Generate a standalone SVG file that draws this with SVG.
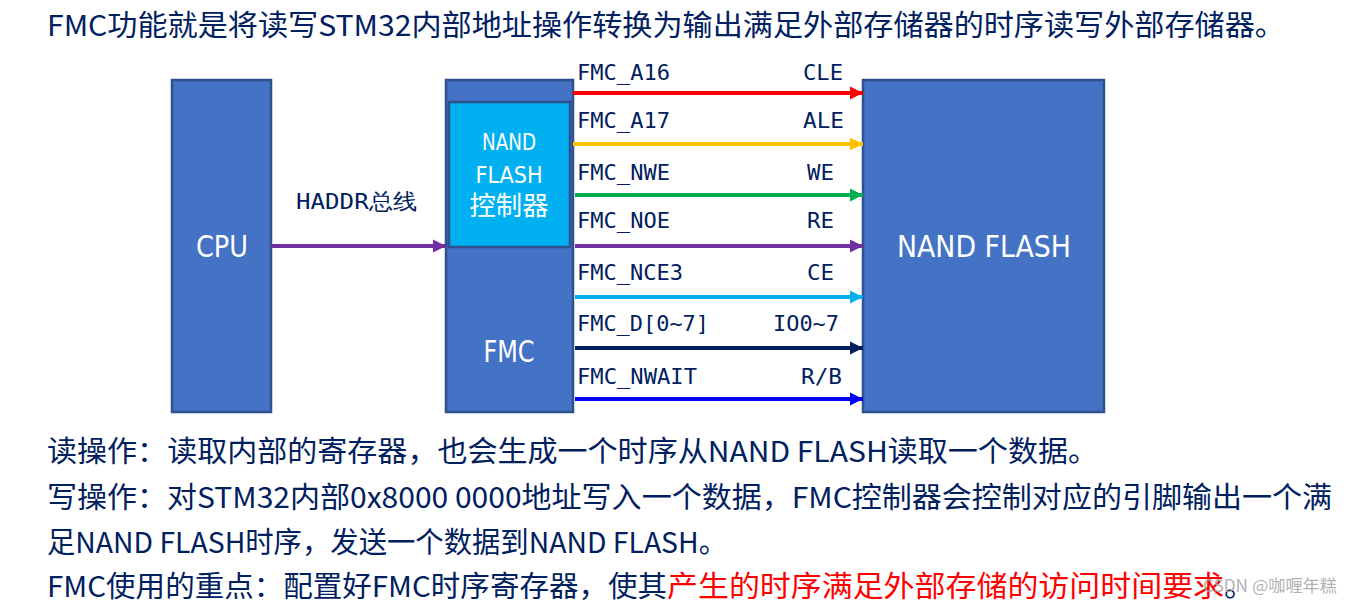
<svg xmlns="http://www.w3.org/2000/svg" width="1352" height="604" viewBox="0 0 1352 604">
<style>
.box{fill:#4472C4;stroke:#2F528F;stroke-width:2.5}
.ctl{fill:#00B0F0;stroke:#2F528F;stroke-width:2.5}
.wt{fill:#FFFFFF;font-family:"DejaVu Sans","Noto Sans CJK SC",sans-serif}
.body{fill:#002060;font-family:"Noto Sans CJK SC",sans-serif;font-size:29px}
.lbl{fill:#002060;font-family:"DejaVu Sans Mono",monospace;font-size:22px}
.red{fill:#FF0000}
.ln{stroke-width:4;fill:none}
</style>
<defs>
<marker id="aR" viewBox="0 0 10 10" refX="10" refY="5" markerWidth="3.3" markerHeight="3.3" markerUnits="strokeWidth" orient="auto"><path d="M0,0L10,5L0,10z" fill="#FF0000"/></marker>
<marker id="aY" viewBox="0 0 10 10" refX="10" refY="5" markerWidth="3.3" markerHeight="3.3" markerUnits="strokeWidth" orient="auto"><path d="M0,0L10,5L0,10z" fill="#FFC000"/></marker>
<marker id="aG" viewBox="0 0 10 10" refX="10" refY="5" markerWidth="3.3" markerHeight="3.3" markerUnits="strokeWidth" orient="auto"><path d="M0,0L10,5L0,10z" fill="#00B050"/></marker>
<marker id="aP" viewBox="0 0 10 10" refX="10" refY="5" markerWidth="3.3" markerHeight="3.3" markerUnits="strokeWidth" orient="auto"><path d="M0,0L10,5L0,10z" fill="#7030A0"/></marker>
<marker id="aC" viewBox="0 0 10 10" refX="10" refY="5" markerWidth="3.3" markerHeight="3.3" markerUnits="strokeWidth" orient="auto"><path d="M0,0L10,5L0,10z" fill="#00B0F0"/></marker>
<marker id="aN" viewBox="0 0 10 10" refX="10" refY="5" markerWidth="3.3" markerHeight="3.3" markerUnits="strokeWidth" orient="auto"><path d="M0,0L10,5L0,10z" fill="#002060"/></marker>
<marker id="aB" viewBox="0 0 10 10" refX="10" refY="5" markerWidth="3.3" markerHeight="3.3" markerUnits="strokeWidth" orient="auto"><path d="M0,0L10,5L0,10z" fill="#0000FF"/></marker>
</defs>

<text class="body" x="47" y="36" textLength="1238" lengthAdjust="spacingAndGlyphs">FMC功能就是将读写STM32内部地址操作转换为输出满足外部存储器的时序读写外部存储器。</text>

<g id="cpu">
<rect class="box" x="172" y="80" width="99" height="332"/>
<text class="wt" x="222" y="257" font-size="30" text-anchor="middle" textLength="52" lengthAdjust="spacingAndGlyphs">CPU</text>
</g>

<g id="fmc">
<rect class="box" x="446" y="80" width="127" height="332"/>
<text class="wt" x="509" y="362" font-size="30" text-anchor="middle" textLength="51" lengthAdjust="spacingAndGlyphs">FMC</text>
</g>

<g id="nand-controller">
<rect class="ctl" x="449" y="102" width="121" height="145"/>
<text class="wt" x="509" y="150" font-size="23" text-anchor="middle" textLength="54" lengthAdjust="spacingAndGlyphs">NAND</text>
<text class="wt" x="509" y="183" font-size="23" text-anchor="middle" textLength="67" lengthAdjust="spacingAndGlyphs">FLASH</text>
<text class="wt" x="509" y="215" font-size="26" text-anchor="middle" textLength="79" lengthAdjust="spacingAndGlyphs" font-family="Noto Sans CJK SC, sans-serif">控制器</text>
</g>

<g id="nand-flash">
<rect class="box" x="863" y="80" width="241" height="332"/>
<text class="wt" x="897" y="257" font-size="31" textLength="174" lengthAdjust="spacingAndGlyphs">NAND FLASH</text>
</g>

<g id="connectors">
<line class="ln" x1="271" y1="246" x2="446" y2="246" stroke="#7030A0" marker-end="url(#aP)"/>
<line class="ln" x1="573" y1="93" x2="863" y2="93" stroke="#FF0000" marker-end="url(#aR)"/>
<line class="ln" x1="573" y1="144" x2="863" y2="144" stroke="#FFC000" marker-end="url(#aY)"/>
<line class="ln" x1="575" y1="195" x2="863" y2="195" stroke="#00B050" marker-end="url(#aG)"/>
<line class="ln" x1="575" y1="246" x2="863" y2="246" stroke="#7030A0" marker-end="url(#aP)"/>
<line class="ln" x1="575" y1="297" x2="863" y2="297" stroke="#00B0F0" marker-end="url(#aC)"/>
<line class="ln" x1="575" y1="348" x2="863" y2="348" stroke="#002060" marker-end="url(#aN)"/>
<line class="ln" x1="575" y1="399" x2="863" y2="399" stroke="#0000FF" marker-end="url(#aB)"/>
</g>

<g id="labels">
<text class="lbl" x="296" y="209" font-size="23" textLength="121" lengthAdjust="spacingAndGlyphs" font-family="DejaVu Sans, Noto Sans CJK SC, sans-serif">HADDR总线</text>
<text class="lbl" x="577" y="80" textLength="93" lengthAdjust="spacingAndGlyphs">FMC_A16</text>
<text class="lbl" x="803" y="80" textLength="40" lengthAdjust="spacingAndGlyphs">CLE</text>
<text class="lbl" x="577" y="128" textLength="93" lengthAdjust="spacingAndGlyphs">FMC_A17</text>
<text class="lbl" x="803" y="128" textLength="41" lengthAdjust="spacingAndGlyphs">ALE</text>
<text class="lbl" x="577" y="180" textLength="93" lengthAdjust="spacingAndGlyphs">FMC_NWE</text>
<text class="lbl" x="807" y="180" textLength="27" lengthAdjust="spacingAndGlyphs">WE</text>
<text class="lbl" x="577" y="228" textLength="93" lengthAdjust="spacingAndGlyphs">FMC_NOE</text>
<text class="lbl" x="807" y="228" textLength="27" lengthAdjust="spacingAndGlyphs">RE</text>
<text class="lbl" x="577" y="280" textLength="106" lengthAdjust="spacingAndGlyphs">FMC_NCE3</text>
<text class="lbl" x="807" y="280" textLength="27" lengthAdjust="spacingAndGlyphs">CE</text>
<text class="lbl" x="577" y="331" textLength="132" lengthAdjust="spacingAndGlyphs">FMC_D[0~7]</text>
<text class="lbl" x="773" y="331" textLength="66" lengthAdjust="spacingAndGlyphs">IO0~7</text>
<text class="lbl" x="577" y="384" textLength="120" lengthAdjust="spacingAndGlyphs">FMC_NWAIT</text>
<text class="lbl" x="801" y="384" textLength="41" lengthAdjust="spacingAndGlyphs">R/B</text>
</g>

<text class="body" x="47" y="462" textLength="1051" lengthAdjust="spacingAndGlyphs">读操作：读取内部的寄存器，也会生成一个时序从NAND FLASH读取一个数据。</text>
<text class="body" x="47" y="508" textLength="1285" lengthAdjust="spacingAndGlyphs">写操作：对STM32内部0x8000 0000地址写入一个数据，FMC控制器会控制对应的引脚输出一个满</text>
<text class="body" x="47" y="553" textLength="680" lengthAdjust="spacingAndGlyphs">足NAND FLASH时序，发送一个数据到NAND FLASH。</text>
<text class="body" x="47" y="597" textLength="620" lengthAdjust="spacingAndGlyphs">FMC使用的重点：配置好FMC时序寄存器，使其</text>
<text class="body" x="667" y="597" textLength="588" lengthAdjust="spacingAndGlyphs"><tspan class="red">产生的时序满足外部存储的访问时间要求</tspan>。</text>
<text x="1203" y="592" font-family="Noto Sans CJK SC, sans-serif" font-size="17" fill="#A8A8A8" fill-opacity="0.9" textLength="134" lengthAdjust="spacingAndGlyphs">CSDN @咖喱年糕</text>
</svg>
